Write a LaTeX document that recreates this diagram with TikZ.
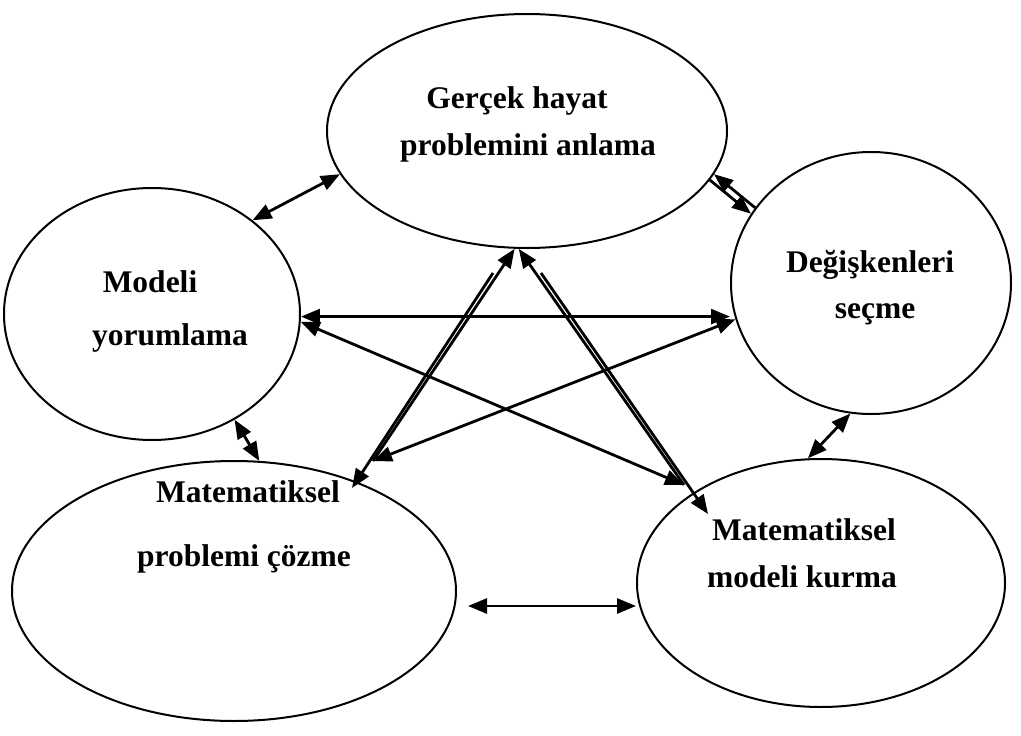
\documentclass[tikz,border=0pt]{standalone}
\usepackage{fontspec}
\setmainfont{Liberation Serif}
\usetikzlibrary{arrows.meta,shapes.geometric}
\begin{document}
\begin{tikzpicture}[x=1pt,y=-1pt,
  ell/.style={draw, line width=2pt, ellipse, inner sep=0pt},
  lbl/.style={font=\fontsize{31.5}{38}\selectfont\bfseries, anchor=base, inner sep=0pt},
  con/.style={line width=2.8pt, -{Triangle[length=19pt,width=15pt]}},
  bicon/.style={line width=2.8pt, {Triangle[length=19pt,width=15pt]}-{Triangle[length=19pt,width=15pt]}}]
\useasboundingbox (0,0) rectangle (1021,736);

% ellipses
\node[ell, minimum width=400pt, minimum height=234pt] (T) at (527,131) {};
\node[ell, minimum width=296pt, minimum height=252pt] (M) at (152,314) {};
\node[ell, minimum width=280pt, minimum height=262pt] (D) at (871,283) {};
\node[ell, minimum width=444pt, minimum height=260pt] (P) at (234,591) {};
\node[ell, minimum width=368pt, minimum height=248pt] (K) at (821,583) {};

% labels
\node[lbl] (t1) at (517,108) {Gerçek hayat};
\node[lbl] (t2) at (528,155) {problemini anlama};
\node[lbl] (m1) at (150,292) {Modeli};
\node[lbl] (m2) at (170,345) {yorumlama};
\node[lbl] (d1) at (870,272) {Değişkenleri};
\node[lbl] (d2) at (875,318) {seçme};
\node[lbl] (p1) at (248,502) {Matematiksel};
\node[lbl] (p2) at (244,566) {problemi çözme};
\node[lbl] (k1) at (804,540) {Matematiksel};
\node[lbl] (k2) at (802,587) {modeli kurma};

% free connector ends
\coordinate (lp1) at (373,461);
\coordinate (lp2) at (493,273);
\coordinate (lp3) at (352,488);
\coordinate (rp1) at (684,485);
\coordinate (rp2) at (541,273);
\coordinate (rp3) at (708,514);
\coordinate (pk) at (468,606);

% connectors
\draw[bicon] (T.193.9) -- (M.43.8);
\draw[con] (T.-15.4) -- (D.150);
\draw[con] (D.147) -- (T.-13.6);
\draw[bicon] (M.-1) -- (M.-1 -| D.west);
\draw[bicon] (M.-3) -- (rp1);
\draw[bicon] (D.195) -- (lp1);
\draw[bicon] (M.-52.2) -- (P.79.5);
\draw[bicon] (D.261.7) -- (K.96.5);
\draw[bicon] (pk) -- (pk -| K.west);
\draw[con] (lp1) -- (T.264.1);
\draw[con] (lp2) -- (lp3);
\draw[con] (rp1) -- (T.266.1);
\draw[con] (rp2) -- (rp3);
\end{tikzpicture}
\end{document}
